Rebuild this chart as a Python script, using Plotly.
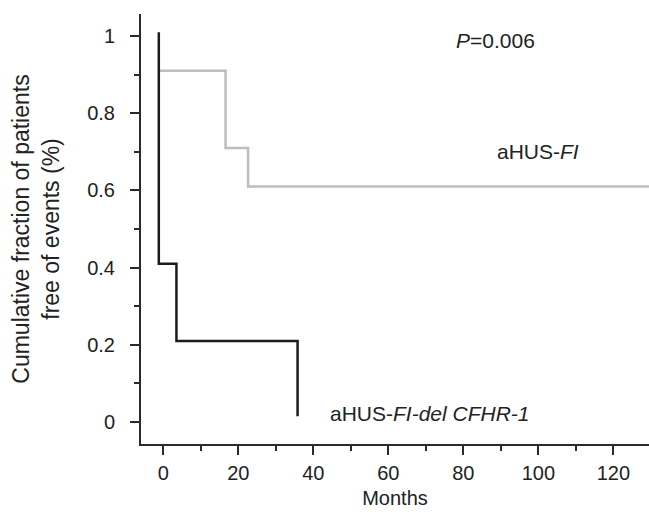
import plotly.graph_objects as go

# Kaplan-Meier step data (months, fraction free of events)
fi_months = [-1.2, 16.6, 22.6, 129.5]
fi_surv = [0.91, 0.71, 0.61, 0.61]

del_months = [-1.2, -1.2, 3.5, 35.8]
del_surv = [1.01, 0.41, 0.21, 0.015]

x_ticks = [0, 20, 40, 60, 80, 100, 120]
y_ticks = [0, 0.2, 0.4, 0.6, 0.8, 1]
y_tick_text = ["0", "0.2", "0.4", "0.6", "0.8", "1"]

FONT = "Liberation Sans, Arial, Helvetica, sans-serif"
AX = "#2a2a2a"

fig = go.Figure()
fig.add_trace(go.Scatter(x=fi_months, y=fi_surv, mode="lines", line_shape="hv",
                         line=dict(color="#bdbdbd", width=2.5), showlegend=False))
fig.add_trace(go.Scatter(x=del_months, y=del_surv, mode="lines", line_shape="hv",
                         line=dict(color="#1c1c1c", width=2.5), showlegend=False))

fig.add_annotation(x=88.7, y=0.988, text="<i>P</i>=0.006", showarrow=False,
                   font=dict(size=21, color="#222", family=FONT), xanchor="center", yanchor="middle")
fig.add_annotation(x=99.9, y=0.70, text="aHUS-<i>FI</i>", showarrow=False,
                   font=dict(size=21, color="#222", family=FONT), xanchor="center", yanchor="middle")
fig.add_annotation(x=43.9, y=0.023, text="aHUS-<i>FI-del CFHR-1</i>", showarrow=False,
                   font=dict(size=21, color="#222", family=FONT), xanchor="left", yanchor="middle")

fig.update_layout(
    width=649, height=515,
    margin=dict(l=141, r=0, t=14, b=71),
    paper_bgcolor="white", plot_bgcolor="white",
    font=dict(family=FONT, size=20, color="#222"),
    xaxis=dict(range=[-5.95, 129.5], tickvals=x_ticks, ticks="outside", ticklen=9, tickwidth=2,
               tickcolor=AX, showline=True, linecolor=AX, linewidth=2, showgrid=False, zeroline=False,
               minor=dict(dtick=10, tick0=0, ticks="outside", ticklen=5, tickwidth=2, tickcolor=AX, showgrid=False),
               title=dict(text="Months", standoff=8, font=dict(size=20)), ticklabelstandoff=1),
    yaxis=dict(range=[-0.057, 1.057], tickvals=y_ticks, ticktext=y_tick_text, ticks="outside", ticklen=9,
               tickwidth=2, tickcolor=AX, showline=True, linecolor=AX, linewidth=2, showgrid=False,
               zeroline=False,
               minor=dict(dtick=0.1, tick0=0, ticks="outside", ticklen=5, tickwidth=2, tickcolor=AX, showgrid=False),
               title=dict(text="Cumulative fraction of patients<br>free of events (%)", standoff=21,
                          font=dict(size=23)), ticklabelstandoff=11),
)

fig.write_html("out.html", config={"displayModeBar": False},
               post_script="document.body.style.margin='0';document.body.style.overflow='hidden';")
